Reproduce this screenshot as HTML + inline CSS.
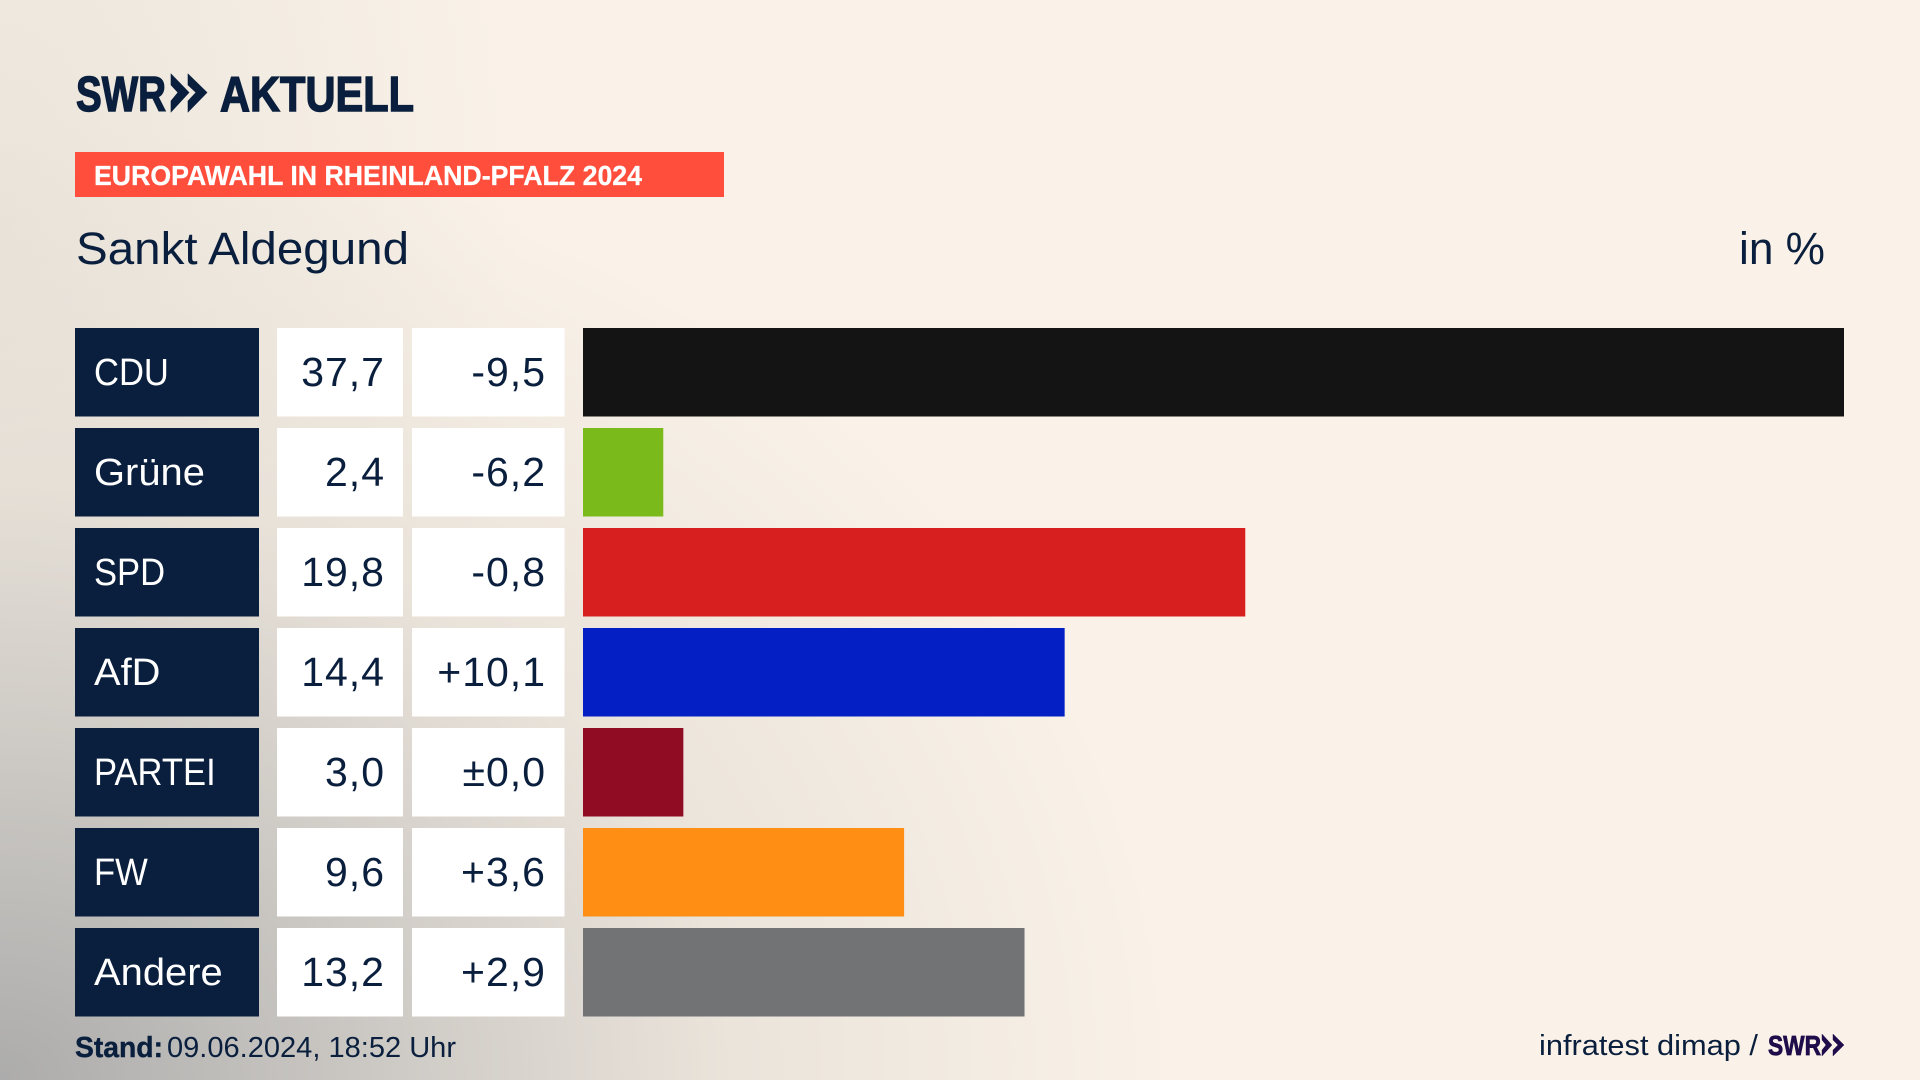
<!DOCTYPE html>
<html lang="de">
<head>
<meta charset="utf-8">
<title>Europawahl in Rheinland-Pfalz 2024 – Sankt Aldegund</title>
<style>
html,body{margin:0;padding:0;width:1920px;height:1080px;overflow:hidden;background:#faf2e8}
#page{position:relative;width:1920px;height:1080px;
background:
radial-gradient(ellipse 1180px 960px at 0px 1080px,rgba(168,168,168,.95) 0%,rgba(190,188,185,.8) 30%,rgba(222,216,208,.55) 62%,rgba(250,242,232,0) 100%),
radial-gradient(ellipse 520px 860px at 0px 220px,rgba(226,221,212,.65) 0%,rgba(250,242,232,0) 100%),
#faf2e8}
svg{position:absolute;left:0;top:0;display:block}
text{font-family:"Liberation Sans",sans-serif}
</style>
</head>
<body>
<div id="page">
<svg id="chart" width="1920" height="1080" viewBox="0 0 1920 1080" xmlns="http://www.w3.org/2000/svg">
  <g fill="#0a1f3d" stroke="#0a1f3d">
    <text x="76" y="111" font-size="49" font-weight="700" stroke-width="1.4" textLength="90" lengthAdjust="spacingAndGlyphs">SWR</text>
    <polygon points="171,74 189,92.5 171,112 171,101 178,92.5 171,85" stroke-width="0.6"/>
    <polygon points="188,74 207,92.5 188,112 188,101 196,92.5 188,85" stroke-width="0.6"/>
    <text x="220" y="111" font-size="49" font-weight="700" stroke-width="1.4" textLength="194" lengthAdjust="spacingAndGlyphs">AKTUELL</text>
  </g>
  <rect x="75" y="152" width="649" height="45" fill="#ff4f3c"/>
  <text x="94" y="185" font-size="28" font-weight="700" fill="#ffffff" stroke="#ffffff" stroke-width="0.3" textLength="548" lengthAdjust="spacingAndGlyphs">EUROPAWAHL IN RHEINLAND-PFALZ 2024</text>
  <text x="76" y="264" font-size="45" fill="#0a1f3d" textLength="333" lengthAdjust="spacingAndGlyphs">Sankt Aldegund</text>
  <text x="1739" y="264" font-size="45" fill="#0a1f3d" textLength="86" lengthAdjust="spacingAndGlyphs">in %</text>
  <g id="rows"></g>
  <text x="75" y="1057" font-size="29" font-weight="700" fill="#0a1f3d" stroke="#0a1f3d" stroke-width="0.4" textLength="88" lengthAdjust="spacingAndGlyphs">Stand:</text>
  <text x="167" y="1057" font-size="29" fill="#0a1f3d" textLength="289" lengthAdjust="spacingAndGlyphs">09.06.2024, 18:52 Uhr</text>
  <text x="1539" y="1055" font-size="29" fill="#0a1f3d" textLength="219" lengthAdjust="spacingAndGlyphs">infratest dimap /</text>
  <g fill="#1f0c4a" stroke="#1f0c4a">
    <text x="1768" y="1055" font-size="28" font-weight="700" stroke-width="0.8" textLength="53" lengthAdjust="spacingAndGlyphs">SWR</text>
    <polygon points="1822,1034 1832,1045 1822,1056 1822,1050 1826,1045 1822,1040" stroke-width="0.4"/>
    <polygon points="1833,1034 1844,1045 1833,1056 1833,1050 1838,1045 1833,1040" stroke-width="0.4"/>
  </g>
</svg>
</div>
<script>
const categories = ["CDU", "Grüne", "SPD", "AfD", "PARTEI", "FW", "Andere"];
const shares = [37.7, 2.4, 19.8, 14.4, 3.0, 9.6, 13.2];
const changes = [-9.5, -6.2, -0.8, 10.1, 0.0, 3.6, 2.9];
const partyColors = ["#141414", "#7aba1a", "#d81f1f", "#0420c4", "#900c22", "#ff8f14", "#717375"];

const SVG_NS = "http://www.w3.org/2000/svg";
const INK = "#0a1f3d";
const rowsGroup = document.getElementById("rows");

function xScale(value) {
  const domainMax = 37.7;
  const rangeWidth = 1261;
  return value / domainMax * rangeWidth;
}
function rowTop(index) {
  return 328 + index * 100;
}
function formatShare(value) {
  return value.toFixed(1).replace(".", ",");
}
function formatChange(value) {
  const text = Math.abs(value).toFixed(1).replace(".", ",");
  if (value > 0) return "+" + text;
  if (value < 0) return "-" + text;
  return "±" + text;
}
function makeRect(x, y, width, height, fill) {
  const rect = document.createElementNS(SVG_NS, "rect");
  rect.setAttribute("x", x);
  rect.setAttribute("y", y);
  rect.setAttribute("width", width);
  rect.setAttribute("height", height);
  rect.setAttribute("fill", fill);
  rowsGroup.appendChild(rect);
  return rect;
}
function makeText(x, y, content, fill, anchor) {
  const text = document.createElementNS(SVG_NS, "text");
  text.setAttribute("x", x);
  text.setAttribute("y", y);
  text.setAttribute("font-size", "41");
  text.setAttribute("fill", fill);
  text.setAttribute("text-anchor", anchor);
  text.textContent = content;
  rowsGroup.appendChild(text);
  return text;
}

categories.forEach(function (name, i) {
  const top = rowTop(i);
  const slug = name.toLowerCase().replace("ü", "ue");

  const labelBox = makeRect(75, top, 184, 88.5, INK);
  
  

  const label = makeText(94, top + 57, name, "#ffffff", "start");
  label.setAttribute("font-size", "38");
  
  
  const fit = /^[A-Z]+$/.test(name) ? 0.91 : 1.05;
  label.setAttribute("textLength", (label.getComputedTextLength() * fit).toFixed(1));
  label.setAttribute("lengthAdjust", "spacingAndGlyphs");

  const shareBox = makeRect(277, top, 126, 88.5, "#ffffff");
  
  

  const shareText = makeText(385, top + 58, formatShare(shares[i]), INK, "end");
  shareText.setAttribute("letter-spacing", "1");
  
  

  const changeBox = makeRect(412, top, 152.5, 88.5, "#ffffff");
  
  

  const changeText = makeText(546, top + 58, formatChange(changes[i]), INK, "end");
  changeText.setAttribute("letter-spacing", "1");
  
  

  const bar = makeRect(583, top, xScale(shares[i]), 88.5, partyColors[i]);
  
  
});
</script>
</body>
</html>
